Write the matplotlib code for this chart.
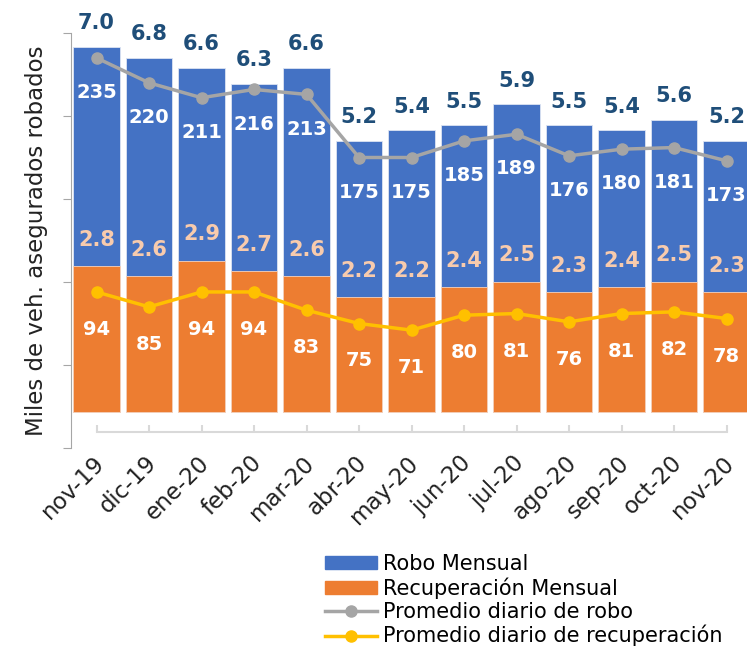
import matplotlib
matplotlib.use("Agg")
import matplotlib.pyplot as plt
import matplotlib.transforms as mtransforms
from matplotlib.patches import Patch
from matplotlib.lines import Line2D
import numpy as np

plt.rcParams['font.family'] = ['DejaVu Sans']

meses = ['nov-19', 'dic-19', 'ene-20', 'feb-20', 'mar-20', 'abr-20', 'may-20',
         'jun-20', 'jul-20', 'ago-20', 'sep-20', 'oct-20', 'nov-20']
robo_mensual = [7.0, 6.8, 6.6, 6.3, 6.6, 5.2, 5.4, 5.5, 5.9, 5.5, 5.4, 5.6, 5.2]
recup_mensual = [2.8, 2.6, 2.9, 2.7, 2.6, 2.2, 2.2, 2.4, 2.5, 2.3, 2.4, 2.5, 2.3]
robo_diario = [235, 220, 211, 216, 213, 175, 175, 185, 189, 176, 180, 181, 173]
recup_diario = [94, 85, 94, 94, 83, 75, 71, 80, 81, 76, 81, 82, 78]

azul = '#4472C4'
naranja = '#ED7D31'
gris = '#A5A5A5'
amarillo = '#FFC000'

fig = plt.figure(figsize=(7.47, 6.46), dpi=100)
ax = fig.add_axes([71 / 747, 1 - 448 / 646, 676 / 747, 415 / 646])
x = np.arange(len(meses))

ax.bar(x, robo_mensual, width=0.88, color=azul, edgecolor='#dce4f2', linewidth=0.6, zorder=2)
ax.bar(x, recup_mensual, width=0.88, color=naranja, edgecolor='#f6d3bd', linewidth=0.6, zorder=3)
ax.set_xlim(-0.486, 12.39)
ax.set_ylim(-0.69, 7.27)

for i in range(len(meses)):
    ax.annotate(f'{robo_mensual[i]:.1f}', (x[i], robo_mensual[i]), xytext=(0, 17),
                textcoords='offset points', ha='center', va='center',
                fontsize=15, fontweight='bold', color='#1F4E79', zorder=5)
    ax.annotate(f'{recup_mensual[i]:.1f}', (x[i], recup_mensual[i]), xytext=(0, 19),
                textcoords='offset points', ha='center', va='center',
                fontsize=15, fontweight='bold', color='#F8CBAD', zorder=5)

for s in ['top', 'right', 'left']:
    ax.spines[s].set_visible(False)
ax.spines['bottom'].set_position(('data', -0.38))
ax.spines['bottom'].set_bounds(0, 12)
ax.spines['bottom'].set_color('#D9D9D9')
ax.spines['bottom'].set_linewidth(1.5)
ax.set_yticks([])
ax.set_xticks(x)
ax.set_xticklabels(meses, rotation=45, ha='right', va='top', rotation_mode='anchor',
                   fontsize=16.5, color='#222222')
ax.tick_params(axis='x', direction='in', length=5, width=1.5, color='#D9D9D9', pad=14)
# las etiquetas quedan un poco a la derecha, se corren unos px
desplaza = mtransforms.ScaledTranslation(-4 / 100, 0, fig.dpi_scale_trans)
for lbl in ax.get_xticklabels():
    lbl.set_transform(lbl.get_transform() + desplaza)

ax2 = ax.twinx()
ax2.set_ylim(0, 250)
ax2.plot(x, robo_diario, color=gris, lw=2.5, marker='o', ms=8, zorder=4)
ax2.plot(x, recup_diario, color=amarillo, lw=2.5, marker='o', ms=8, zorder=4)
for i in range(len(meses)):
    ax2.annotate(str(robo_diario[i]), (x[i], robo_diario[i]), xytext=(0, -25),
                 textcoords='offset points', ha='center', va='center',
                 fontsize=14, fontweight='bold', color='white')
    ax2.annotate(str(recup_diario[i]), (x[i], recup_diario[i]), xytext=(0, -27),
                 textcoords='offset points', ha='center', va='center',
                 fontsize=14, fontweight='bold', color='white')

for s in ['top', 'right', 'bottom']:
    ax2.spines[s].set_visible(False)
ax2.spines['left'].set_visible(True)
ax2.spines['left'].set_color('#A6A6A6')
ax2.yaxis.set_ticks_position('left')
ax2.set_yticks(np.arange(0, 251, 50))
ax2.set_yticklabels([])
ax2.tick_params(axis='y', direction='out', length=6, color='#A6A6A6')
ax2.set_ylabel('Miles de veh. asegurados robados', fontsize=16.5, color='#222222', labelpad=7)
ax2.yaxis.set_label_position('left')

handles = [Patch(color=azul), Patch(color=naranja),
           Line2D([], [], color=gris, lw=2.5, marker='o', ms=8),
           Line2D([], [], color=amarillo, lw=2.5, marker='o', ms=8)]
labels = ['Robo Mensual', 'Recuperación Mensual', 'Promedio diario de robo',
          'Promedio diario de recuperación']
fig.legend(handles, labels, loc='upper left', bbox_to_anchor=(325 / 747, 1 - 554 / 646),
           frameon=False, fontsize=15, handlelength=2.5, handleheight=0.55,
           handletextpad=0.3, labelspacing=0.15, borderpad=0, borderaxespad=0)

fig.savefig('out.png', dpi=100)
